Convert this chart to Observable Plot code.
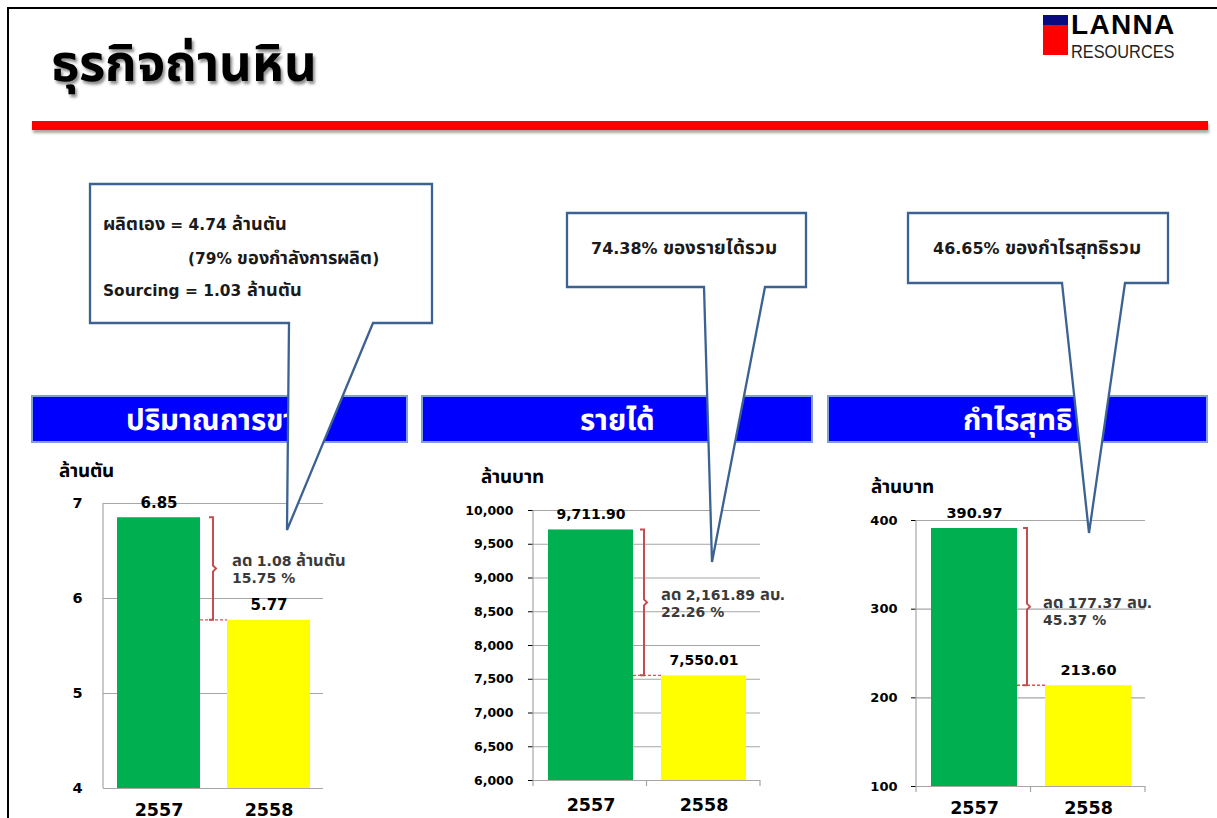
<!DOCTYPE html>
<html>
<head>
<meta charset="utf-8">
<script src="https://cdn.jsdelivr.net/npm/d3@7"></script>
<script src="https://cdn.jsdelivr.net/npm/@observablehq/plot@0.6"></script>
<style>
  @font-face { font-family: "ThaiWide"; font-weight: 400;
    src: local("Noto Sans Thai"), local("NotoSansThai-Regular"), local("Noto Sans Thai Regular");
    size-adjust: 118%; unicode-range: U+0E00-0E7F; }
  @font-face { font-family: "ThaiWide"; font-weight: 700;
    src: local("Noto Sans Thai Bold"), local("NotoSansThai-Bold"), local("Noto Sans Thai");
    size-adjust: 118%; unicode-range: U+0E00-0E7F; }
  html, body { margin: 0; padding: 0; background: #fff; }
  body { width: 1217px; height: 818px; position: relative; overflow: hidden;
         font-family: "DejaVu Sans", "ThaiWide", "Noto Sans Thai", "Noto Sans", sans-serif; }
  .abs { position: absolute; }
  .frame { left: 7px; top: 7px; width: 1400px; height: 1000px; border: 2.5px solid #000; box-sizing: border-box; }
  .title { left: 51px; top: 35px; font-size: 43px; font-weight: bold; color: #000;
           text-shadow: 2px 3px 3px rgba(0,0,0,0.45); white-space: nowrap; line-height: 62px; }
  .redline { left: 32px; top: 121px; width: 1176px; height: 9px; background: #ff0000;
             box-shadow: 1px 3px 3px rgba(0,0,0,0.35); }
  .header { top: 395px; height: 48px; padding-top: 3px; background: #0000ff; border: 2.5px solid #7fa0d4; box-sizing: border-box;
            color: #fff; font-weight: bold; font-size: 25px; display: flex; align-items: center; justify-content: center; }
  .unit { font-size: 16px; font-weight: bold; color: #000; white-space: nowrap; }
  .logo-blue { left: 1043px; top: 15px; width: 25px; height: 10px; background: #0a0a80; }
  .logo-red { left: 1043px; top: 25px; width: 25px; height: 30px; background: #ff0000; }
  .logo-t1 { left: 1071px; top: 11px; font-family: "Liberation Sans", Arial, sans-serif; font-weight: bold; font-size: 28px; letter-spacing: 1.3px; line-height: 28px; }
  .logo-t2 { left: 1071px; top: 42px; font-family: "Liberation Sans", Arial, sans-serif; font-size: 19px; line-height: 19px; transform: scaleX(0.86); transform-origin: left top; color: #222; }
  #overlay { left: 0; top: 0; pointer-events: none; }
</style>
</head>
<body>
<script>
// ---------- data ----------
const years = ["2557", "2558"];
const volumeValues = [6.85, 5.77];
const volumeLabels = ["6.85", "5.77"];
const volumeTicks = [4, 5, 6, 7];
const revenueValues = [9711.90, 7550.01];
const revenueLabels = ["9,711.90", "7,550.01"];
const revenueTicks = [6000, 6500, 7000, 7500, 8000, 8500, 9000, 9500, 10000];
const profitValues = [390.97, 213.60];
const profitLabels = ["390.97", "213.60"];
const profitTicks = [100, 200, 300, 400];
const barColors = ["#00b050", "#ffff00"];

const titleText = "ธุรกิจถ่านหิน";
const headerTexts = ["ปริมาณการขาย", "รายได้", "กำไรสุทธิ"];
const unitTexts = ["ล้านตัน", "ล้านบาท", "ล้านบาท"];
const volumeNote = ["ลด 1.08 ล้านตัน", "15.75 %"];
const revenueNote = ["ลด 2,161.89 ลบ.", "22.26 %"];
const profitNote = ["ลด 177.37 ลบ.", "45.37 %"];
const callout1Lines = ["ผลิตเอง = 4.74 ล้านตัน", "(79% ของกำลังการผลิต)", "Sourcing = 1.03 ล้านตัน"];
const callout2Lines = ["74.38% ของรายได้รวม"];
const callout3Lines = ["46.65% ของกำไรสุทธิรวม"];

const FONT = '"DejaVu Sans", "ThaiWide", "Noto Sans Thai", "Noto Sans", sans-serif';

// ---------- static slide elements ----------
function div(cls, style, text) {
  const d = document.createElement("div");
  d.className = "abs " + cls;
  Object.assign(d.style, style || {});
  if (text != null) d.textContent = text;
  document.body.appendChild(d);
  return d;
}
div("frame");
div("title", {}, titleText);
div("redline");
div("logo-blue"); div("logo-red");
div("logo-t1", {}, "LANNA");
div("logo-t2", {}, "RESOURCES");
div("header", {left: "31px", width: "377px"}, headerTexts[0]);
div("header", {left: "421px", width: "392px"}, headerTexts[1]);
div("header", {left: "827px", width: "381px"}, headerTexts[2]);
div("unit", {left: "59px", top: "457px"}, unitTexts[0]);
div("unit", {left: "481px", top: "463px"}, unitTexts[1]);
div("unit", {left: "871px", top: "473px"}, unitTexts[2]);

// ---------- charts ----------
function chart(cfg) {
  const rows = years.map((yr, i) => ({year: yr, value: cfg.values[i], label: cfg.labels[i]}));
  const base = cfg.domain[0];
  const decor = (index, scales, values, dim) => {
    const sx = scales.x, sy = scales.y;
    const bw = typeof sx.bandwidth === "function" ? sx.bandwidth() : sx.bandwidth;
    const g = d3.create("svg:g");
    const [r0, r1] = [dim.marginLeft, dim.width - dim.marginRight];
    const yb = dim.height - dim.marginBottom;
    // left axis line
    g.append("line").attr("x1", r0).attr("x2", r0).attr("y1", dim.marginTop).attr("y2", yb)
      .attr("stroke", "#a6a6a6").attr("stroke-width", 1.2);
    // bottom boundary ticks
    if (cfg.boundaryTicks) {
      const step = (r1 - r0) / years.length;
      for (let k = 0; k <= years.length; k++) {
        g.append("line").attr("x1", r0 + k * step).attr("x2", r0 + k * step).attr("y1", yb).attr("y2", yb + 6)
          .attr("stroke", "#a6a6a6").attr("stroke-width", 1.2);
      }
    }
    const xa = sx(years[0]) + bw, xb = sx(years[1]);
    const ya = sy(cfg.values[0]), yc = sy(cfg.values[1]);
    const bx = xa + cfg.bracketGap;
    // dashed level line
    g.append("line").attr("x1", xa).attr("x2", xb).attr("y1", yc).attr("y2", yc)
      .attr("stroke", "#d9534f").attr("stroke-width", 1.3).attr("stroke-dasharray", "3,2");
    // bracket
    const ym = (ya + yc) / 2;
    g.append("path")
      .attr("d", `M${bx - 4},${ya} H${bx} V${ym - 3} L${bx + 3},${ym} L${bx},${ym + 3} V${yc} H${bx - 4}`)
      .attr("fill", "none").attr("stroke", "#c0504d").attr("stroke-width", 2);
    // note
    const t = g.append("text").attr("x", bx + cfg.noteGap).attr("y", ym + cfg.noteShift)
      .attr("text-anchor", "start")
      .attr("font-size", 14).attr("font-weight", "bold").attr("fill", "#3a3a3a");
    cfg.note.forEach((line, k) => {
      t.append("tspan").attr("x", bx + cfg.noteGap).attr("dy", k === 0 ? "-0.2em" : "1.25em").text(line);
    });
    return g.node();
  };
  const svg = Plot.plot({
    width: cfg.width, height: cfg.height,
    marginLeft: cfg.ml, marginRight: cfg.mr, marginTop: cfg.mt, marginBottom: cfg.mb,
    style: {background: "transparent", fontFamily: FONT, fontWeight: "bold", fontSize: cfg.tickFont + "px", color: "#000", overflow: "visible"},
    x: {domain: years, paddingInner: 0.25, paddingOuter: 0.125, axis: null},
    y: {domain: cfg.domain, ticks: cfg.ticks, tickFormat: cfg.fmt, label: null, tickSize: cfg.tickSize, tickPadding: cfg.tickPadding},
    marks: [
      Plot.ruleY(cfg.ticks, {stroke: "#a6a6a6", strokeWidth: 1.2}),
      Plot.barY(rows, {x: "year", y1: base, y2: "value", fill: (d, i) => barColors[i]}),
      Plot.text(rows, {x: "year", y: "value", text: "label", dy: -15, fontSize: cfg.valueFont, fontWeight: "bold", fill: "#000"}),
      Plot.text(years, {x: d => d, frameAnchor: "bottom", lineAnchor: "middle", dy: cfg.yearDy, text: d => d, fontSize: 17.5, fontWeight: "bold", fill: "#000"}),
      decor
    ]
  });
  const holder = div("", {left: cfg.left + "px", top: cfg.top + "px"});
  holder.appendChild(svg);
}

chart({values: volumeValues, labels: volumeLabels, ticks: volumeTicks, domain: [4, 7], fmt: d3.format("d"),
  left: 30, top: 455, width: 380, height: 363, ml: 73, mr: 87, mt: 48, mb: 30,
  tickFont: 14.5, tickSize: 0, tickPadding: 21, boundaryTicks: false, yearDy: 22, valueFont: 15,
  bracketGap: 13, noteGap: 19, noteShift: 0, note: volumeNote});
chart({values: revenueValues, labels: revenueLabels, ticks: revenueTicks, domain: [6000, 10000], fmt: d3.format(","),
  left: 440, top: 460, width: 390, height: 358, ml: 93, mr: 70, mt: 50, mb: 38,
  tickFont: 12.5, tickSize: 5, tickPadding: 15, boundaryTicks: true, yearDy: 25, valueFont: 14,
  bracketGap: 11, noteGap: 17, noteShift: 0, note: revenueNote});
chart({values: profitValues, labels: profitLabels, ticks: profitTicks, domain: [100, 400], fmt: d3.format("d"),
  left: 835, top: 470, width: 382, height: 348, ml: 81, mr: 72, mt: 50, mb: 32,
  tickFont: 13, tickSize: 5, tickPadding: 14, boundaryTicks: true, yearDy: 22, valueFont: 14.5,
  bracketGap: 10, noteGap: 16, noteShift: 4, note: profitNote});

// ---------- callouts overlay ----------
const ov = d3.select(document.body).append("svg").attr("id", "overlay").attr("class", "abs")
  .attr("width", 1217).attr("height", 818);
const calloutShapes = [
  "M90,184 H432 V323 H373 L287,530 L289,323 H90 Z",
  "M567,213 H806 V287 H765 L712,562 L704,287 H567 Z",
  "M908,213 H1168 V283 H1125 L1089,533 L1062,283 H908 Z"
];
calloutShapes.forEach(d => ov.append("path").attr("d", d).attr("fill", "#fff")
  .attr("stroke", "#3c6292").attr("stroke-width", 2.3).attr("stroke-linejoin", "miter"));
const calloutText = [
  {lines: callout1Lines, xs: [103, 188, 103], ys: [230, 264, 296], size: 15.4},
  {lines: callout2Lines, xs: [591], ys: [254], size: 16},
  {lines: callout3Lines, xs: [933], ys: [254], size: 16}
];
calloutText.forEach(c => c.lines.forEach((l, k) => {
  ov.append("text").attr("x", c.xs[k]).attr("y", c.ys[k]).attr("font-family", FONT)
    .attr("font-size", c.size).attr("font-weight", "bold").attr("fill", "#1a1a1a").text(l);
}));
</script>
</body>
</html>
